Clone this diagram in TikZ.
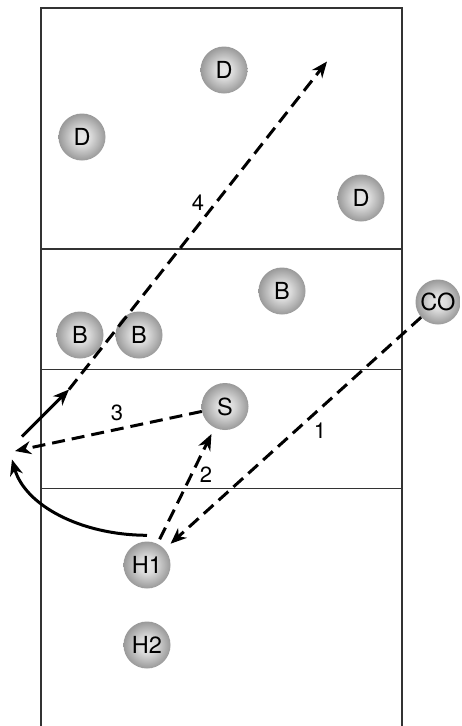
\documentclass[tikz,border=0pt]{standalone}
\usepackage{fontspec}
\setmainfont{TeX Gyre Heros}
\usetikzlibrary{arrows.meta}
\pgfdeclareradialshading{ballshade}{\pgfpoint{0bp}{0bp}}{color(0bp)=(black!9); color(9bp)=(black!14); color(25bp)=(black!40); color(50bp)=(black!40)}
\tikzset{
  player/.style={circle, minimum size=47pt, inner sep=0pt, shading=ballshade, font=\fontsize{23.5}{26}\selectfont},
  courtline/.style={draw=black!80, line width=2pt},
  zoneline/.style={draw=black!80, line width=1.3pt},
  pass/.style={line width=3pt, dash pattern=on 13pt off 7pt, -{Stealth[length=16pt,width=13pt,inset=5pt]}},
  run/.style={line width=3pt, -{Stealth[length=16pt,width=13pt,inset=5pt]}},
  numlabel/.style={font=\fontsize{22}{24}\selectfont, inner sep=0pt}
}
\begin{document}
\begin{tikzpicture}[x=1pt,y=-1pt]
\useasboundingbox (0,0) rectangle (462,726);
% court
\draw[courtline] (41,727) -- (41,7.5) -- (402.3,7.5) -- (402.3,727);
\draw[zoneline] (41,249) -- (402.3,249);
\draw[zoneline] (41,369.3) -- (402.3,369.3);
\draw[zoneline] (41,488.5) -- (402.3,488.5);
% players
\node[player] (D1) at (224,70) {D};
\node[player] (D2) at (82,137) {D};
\node[player] (D3) at (361,198) {D};
\node[player] (B1) at (282,291) {B};
\node[player] (B2) at (80,335) {B};
\node[player] (B3) at (139,335) {B};
\node[player, minimum size=45pt] (CO) at (438,302) {CO};
\node[player] (S) at (225,406.5) {S};
\node[player] (H1) at (147,565) {H1};
\node[player] (H2) at (147,645) {H2};
% free points
\coordinate (p3) at (15,451);
\coordinate (q) at (69,389.5);
\coordinate (r) at (22,436.5);
\coordinate (c) at (12,459.5);
\coordinate (t4) at (327,61.5);
% passes
\draw[pass, shorten >=8pt] (CO) -- (H1);
\draw[pass, shorten <=5pt, shorten >=7pt] (H1) -- (S);
\draw[pass] (S) -- (p3);
\draw[pass] (q) -- (t4);
% runs
\draw[run] (r) -- (q);
\draw[run] ([yshift=6pt]H1.north) .. controls (80,535) and (25,505) .. (c);
% labels
\node[numlabel] (l1) at (320,431) {1};
\node[numlabel] (l2) at (206,475) {2};
\node[numlabel] (l3) at (117,413) {3};
\node[numlabel] (l4) at (198,203) {4};
\end{tikzpicture}
\end{document}
